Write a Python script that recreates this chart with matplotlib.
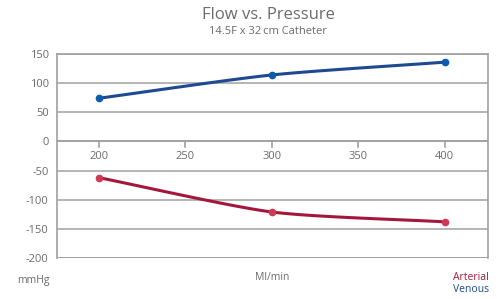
import numpy as np
import matplotlib
matplotlib.use("Agg")
import matplotlib.pyplot as plt

plt.rcParams['font.family'] = ['Open Sans', 'DejaVu Sans']
plt.rcParams['axes.unicode_minus'] = False

flow = [200, 300, 400]
venous = [74, 114, 136]
arterial = [-62, -121, -138]
yticks = [150, 100, 50, 0, -50, -100, -150, -200]
xticks = [200, 250, 300, 350, 400]

grey = '#6b6b6b'
blue_line, blue_dot = '#1d4a91', '#0b5cad'
red_line, red_dot = '#a3183a', '#cf3a52'


def smooth(x, y, n=40, k=0.35):
    # softened catmull-rom through the points, just for the curved look
    x = np.asarray(x, float)
    y = np.asarray(y, float)
    px = np.concatenate([[2*x[0]-x[1]], x, [2*x[-1]-x[-2]]])
    py = np.concatenate([[2*y[0]-y[1]], y, [2*y[-1]-y[-2]]])
    xs, ys = [], []
    t = np.linspace(0, 1, n)
    h00 = 2*t**3 - 3*t**2 + 1
    h10 = t**3 - 2*t**2 + t
    h01 = -2*t**3 + 3*t**2
    h11 = t**3 - t**2
    for i in range(1, len(px) - 2):
        for p, out in ((px, xs), (py, ys)):
            m1 = k*(p[i+1]-p[i-1])
            m2 = k*(p[i+2]-p[i])
            out.extend(h00*p[i] + h10*m1 + h01*p[i+1] + h11*m2)
    return xs, ys


fig = plt.figure(figsize=(4.99, 2.99), dpi=100)
ax = fig.add_axes([57/499, 1-258/299, 431/499, 204/299])

ax.set_xlim(176, 425)
ax.set_ylim(-200, 150)
ax.set_yticks(yticks)
ax.set_xticks(xticks)
ax.yaxis.grid(True, color='#a8a8a8', lw=1.2)
ax.set_axisbelow(True)
for s in ax.spines.values():
    s.set_color('#a0a0a0')
    s.set_linewidth(1.2)
ax.spines['bottom'].set_visible(False)
ax.axhline(-200, color='#a0a0a0', lw=1.2, zorder=1)
ax.axhline(0, color='#a0a0a0', lw=1.2, zorder=1)

ax.tick_params(axis='y', length=0, pad=6, labelsize=8, labelcolor=grey)
# x ticks hang from the zero line
for t in xticks:
    ax.plot([t, t], [0, -9], color='#a0a0a0', lw=1.2, clip_on=False, zorder=1)
    ax.text(t, -16, str(t), ha='center', va='top', fontsize=8, color=grey)
ax.tick_params(axis='x', bottom=False, labelbottom=False)

xs, ys = smooth(flow, venous)
ax.plot(xs, ys, color=blue_line, lw=2.2, zorder=3)
ax.plot(flow, venous, 'o', color=blue_dot, ms=4.5, zorder=4)
xs, ys = smooth(flow, arterial)
ax.plot(xs, ys, color=red_line, lw=2.2, zorder=3)
ax.plot(flow, arterial, 'o', color=red_dot, ms=4.5, zorder=4)

fig.text(268/499, 1-15/299, 'Flow vs. Pressure', ha='center', va='center',
         fontsize=12, color=grey)
fig.text(268/499, 1-32/299, '14.5F x 32\u2009cm Catheter', ha='center', va='center',
         fontsize=8, color=grey)
fig.text(50/499, 1-280/299, 'mmHg', ha='right', va='center', fontsize=7.5, color=grey)
fig.text(272/499, 1-277/299, 'Ml/min', ha='center', va='center', fontsize=7.5, color=grey)
fig.text(489/499, 1-277/299, 'Arterial', ha='right', va='center', fontsize=7.5, color=red_line)
fig.text(489/499, 1-289/299, 'Venous', ha='right', va='center', fontsize=7.5, color=blue_line)

fig.savefig('out.png', dpi=100)
